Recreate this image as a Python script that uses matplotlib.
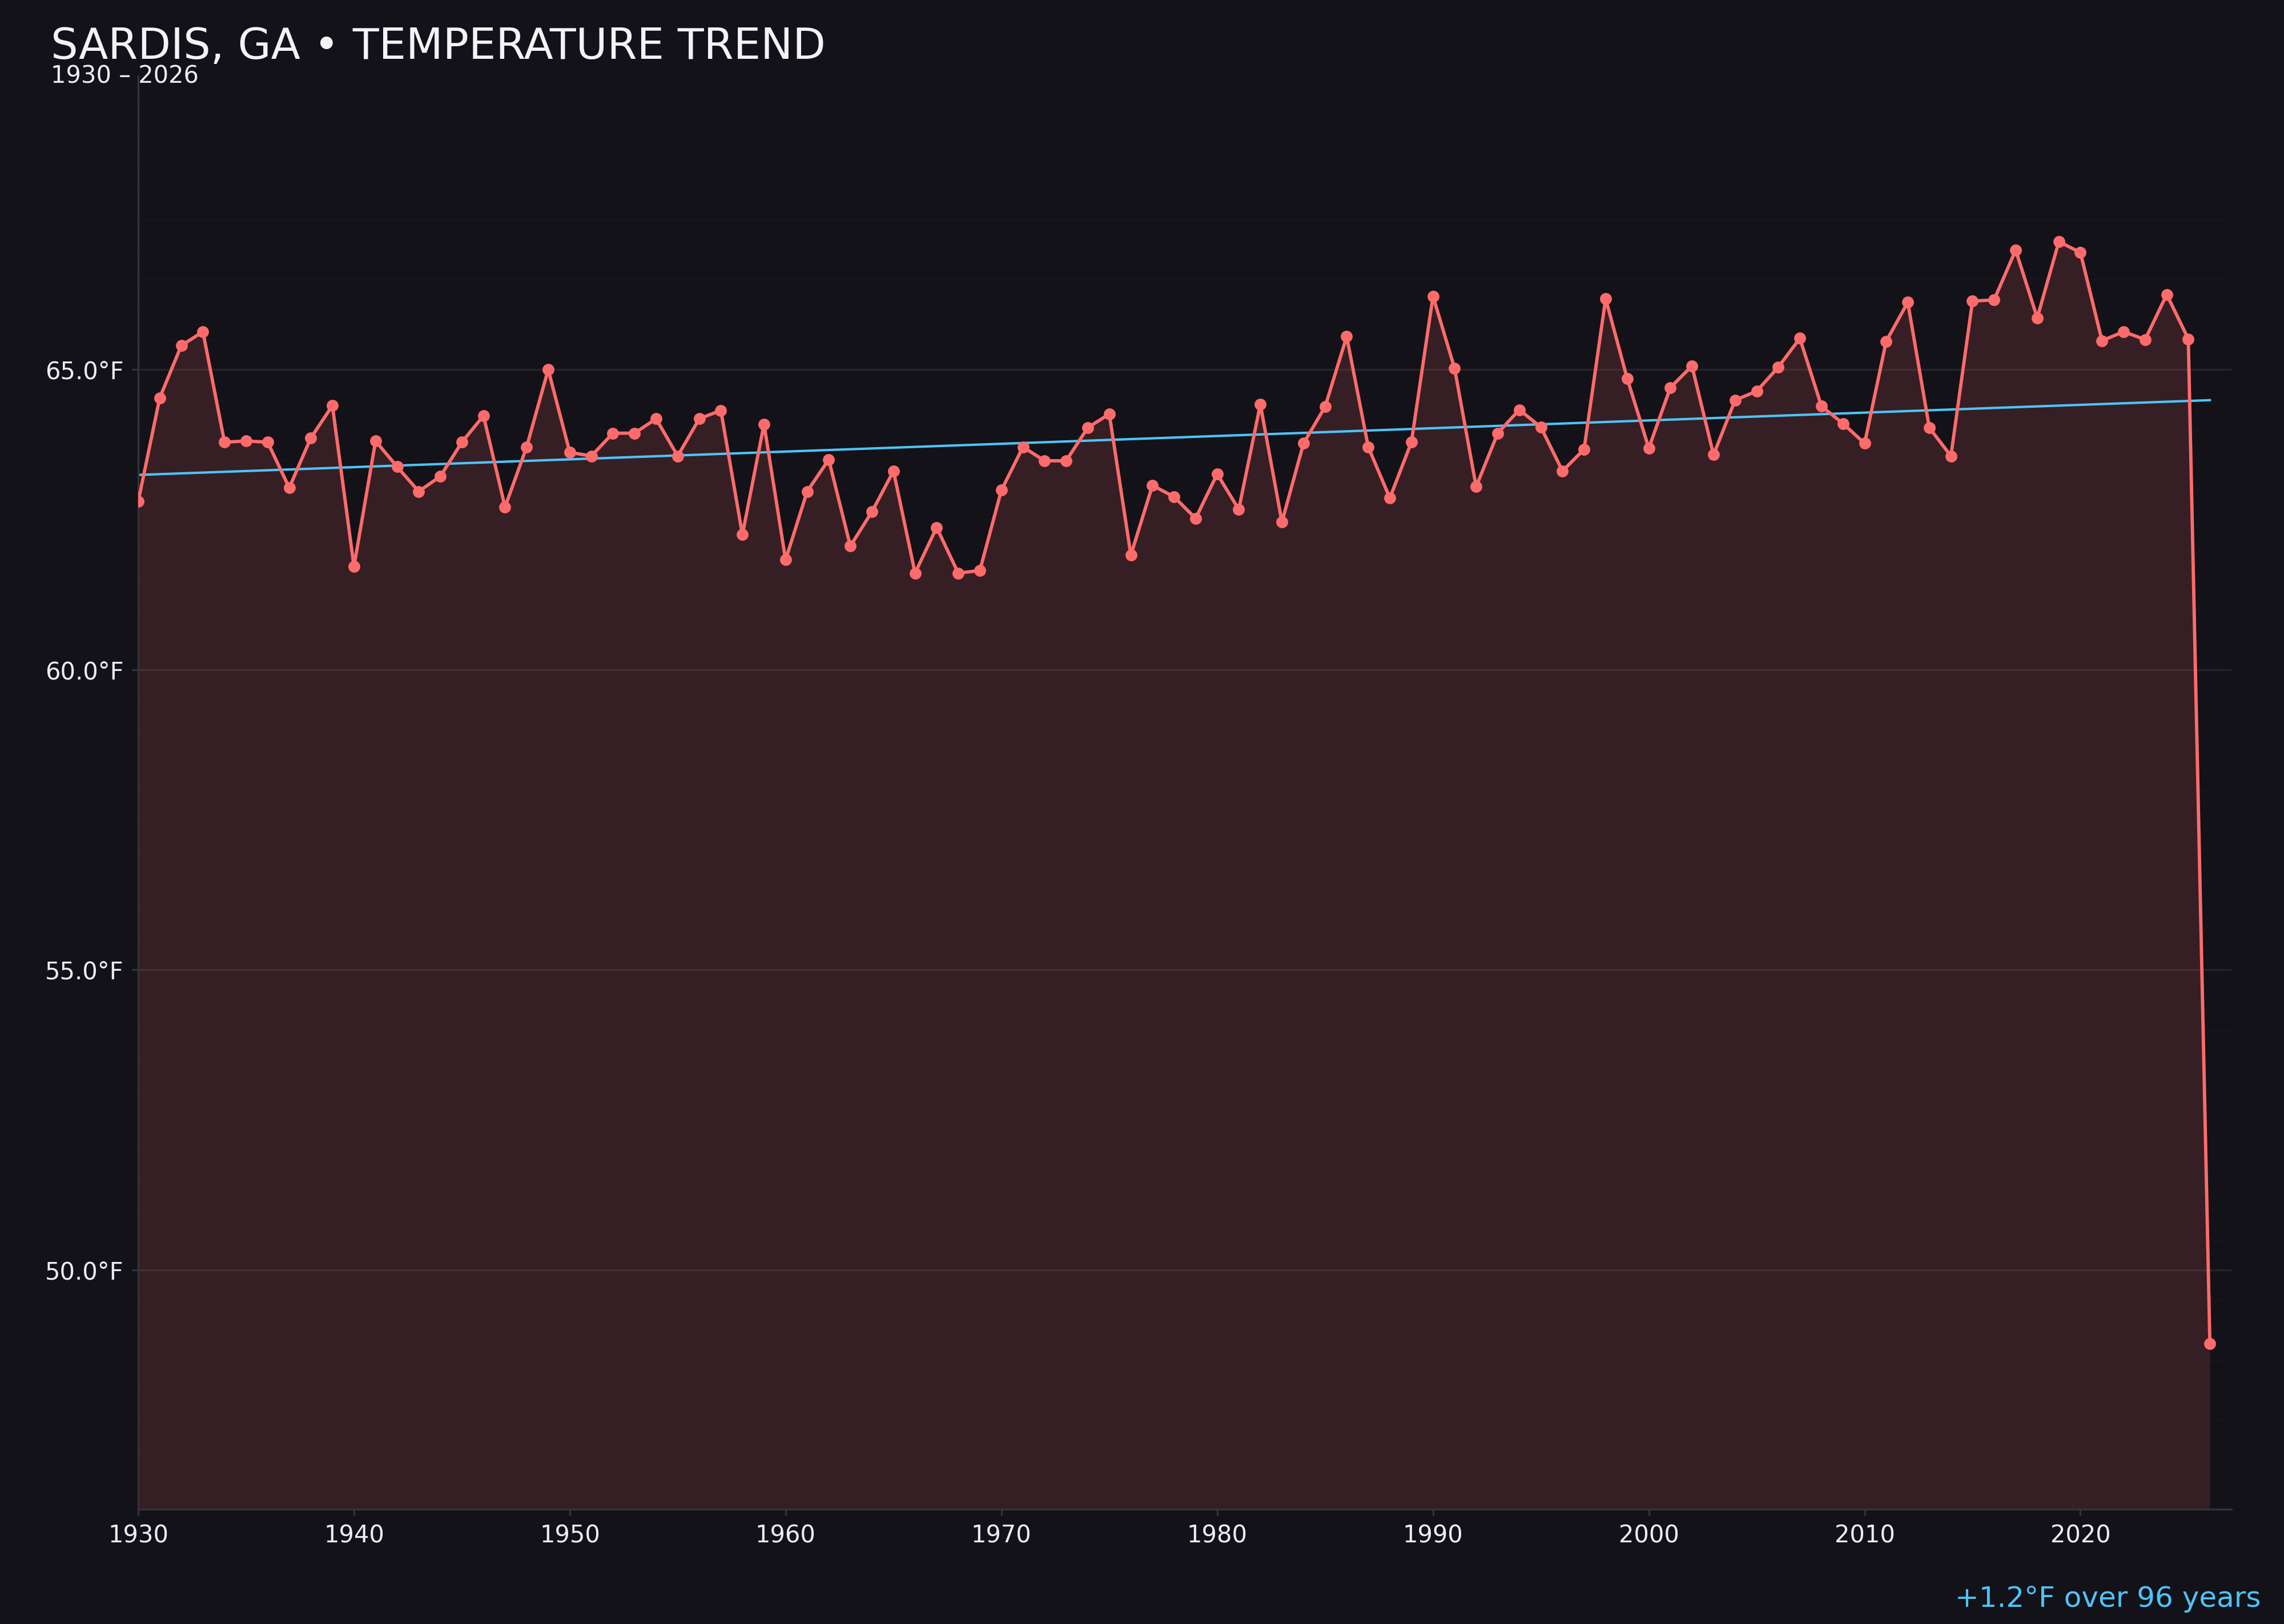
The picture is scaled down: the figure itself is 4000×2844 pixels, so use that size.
import numpy as np
import matplotlib
matplotlib.use("Agg")
import matplotlib.pyplot as plt
from matplotlib.ticker import MultipleLocator, FuncFormatter

# Annual mean temperature, Sardis GA
years = list(range(1930, 2027))
temps = [
    62.80, 64.53, 65.40, 65.63, 63.79, 63.81, 63.79, 63.03, 63.86, 64.40,  # 1930s
    61.72, 63.81, 63.38, 62.97, 63.22, 63.79, 64.23, 62.71, 63.71, 65.00,  # 1940s
    63.62, 63.56, 63.94, 63.94, 64.18, 63.56, 64.18, 64.32, 62.25, 64.09,  # 1950s
    61.83, 62.97, 63.50, 62.06, 62.63, 63.31, 61.61, 62.37, 61.61, 61.65,  # 1960s
    62.99, 63.71, 63.48, 63.48, 64.03, 64.26, 61.91, 63.07, 62.88, 62.52,  # 1970s
    63.26, 62.67, 64.42, 62.46, 63.77, 64.38, 65.55, 63.71, 62.86, 63.79,  # 1980s
    66.22, 65.02, 63.05, 63.94, 64.33, 64.04, 63.31, 63.67, 66.18, 64.85,  # 1990s
    63.69, 64.70, 65.06, 63.58, 64.49, 64.64, 65.04, 65.52, 64.39, 64.10,  # 2000s
    63.77, 65.47, 66.12, 64.03, 63.56, 66.14, 66.16, 66.99, 65.86, 67.13,  # 2010s
    66.95, 65.48, 65.63, 65.50, 66.25, 65.51, 48.77,                       # 2020s
]
title = "SARDIS, GA \u2022 TEMPERATURE TREND"
subtitle = "1930 \u2013 2026"
trend_note = "+1.2\u00b0F over 96 years"

BG = "#121218"
RED = "#ff6b6b"
BLUE = "#4fc3f7"
GRID = "#24242b"
SPINE = "#33333d"
TXT = "#ececf2"

x = np.array(years)
y = np.array(temps)

fig = plt.figure(figsize=(4000 / 300, 2844 / 300), dpi=300, facecolor=BG)
ax = fig.add_axes([0.0605, 0.0707, 0.9165, 0.8823])
ax.set_facecolor(BG)

rng = y.max() - y.min()
ymin = y.min() - 0.15 * rng
ymax = y.max() + 0.15 * rng

# linear trend over every year shown
coef = np.polyfit(x, y, 1)
tx = np.array([x[0], x[-1]])

ax.fill_between(x, y, ymin, color=RED, alpha=0.15, linewidth=0, zorder=1)
ax.plot(tx, np.polyval(coef, tx), color=BLUE, lw=1.0, zorder=2)
ax.plot(x, y, color=RED, lw=1.4, marker="o", ms=4, zorder=3)

ax.set_xlim(1930, 2027)
ax.set_ylim(ymin, ymax)

ax.xaxis.set_major_locator(MultipleLocator(10))
ax.yaxis.set_major_locator(MultipleLocator(5))
ax.yaxis.set_minor_locator(MultipleLocator(0.5))
ax.yaxis.set_major_formatter(FuncFormatter(lambda v, p: f"{v:.1f}\u00b0F"))
ax.grid(axis="y", which="major", color=GRID, lw=0.8, zorder=0)
ax.grid(axis="y", which="minor", color="#ffffff", alpha=0.015, lw=0.6, zorder=0)
ax.grid(axis="x", visible=False)
ax.set_axisbelow(True)

for s in ["top", "right"]:
    ax.spines[s].set_visible(False)
for s in ["left", "bottom"]:
    ax.spines[s].set_color(SPINE)
    ax.spines[s].set_linewidth(0.8)
ax.tick_params(which="major", colors=SPINE, labelcolor=TXT, labelsize=10, length=2.6, width=0.8)
ax.tick_params(which="minor", length=0)

fig.text(0.0222, 0.984, title, color="#f2f2f7", fontsize=18, ha="left", va="top")
fig.text(0.0222, 0.9606, subtitle, color=TXT, fontsize=10, ha="left", va="top")
fig.text(0.990, 0.0105, trend_note, color=BLUE, fontsize=12, ha="right", va="baseline")

fig.savefig("out.png", dpi=300, facecolor=BG)
